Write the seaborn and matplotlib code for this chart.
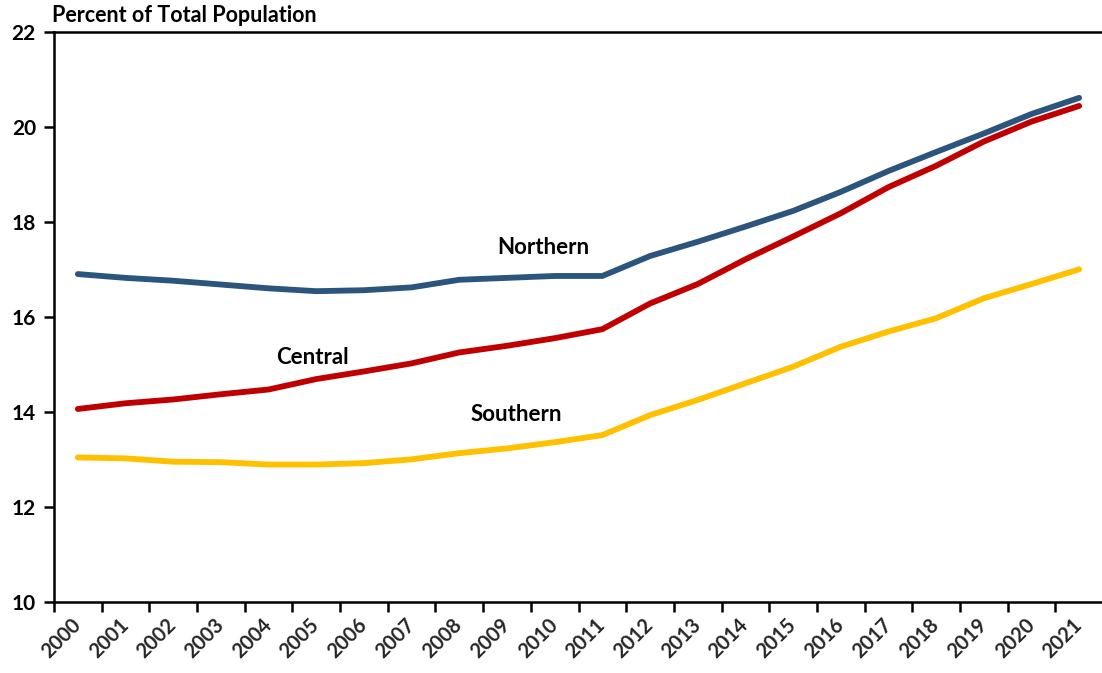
import matplotlib
matplotlib.use("Agg")
import matplotlib.pyplot as plt
import seaborn as sns
import pandas as pd
import numpy as np

years = [str(y) for y in range(2000, 2022)]

northern = [16.91, 16.83, 16.77, 16.69, 16.61, 16.55, 16.57, 16.63, 16.79, 16.83, 16.87, 16.87,
            17.29, 17.59, 17.91, 18.24, 18.64, 19.08, 19.48, 19.87, 20.28, 20.62]
central = [14.07, 14.19, 14.27, 14.38, 14.48, 14.70, 14.86, 15.03, 15.26, 15.40, 15.56, 15.75,
           16.29, 16.70, 17.22, 17.70, 18.19, 18.74, 19.19, 19.70, 20.12, 20.45]
southern = [13.05, 13.03, 12.96, 12.95, 12.90, 12.90, 12.93, 13.01, 13.14, 13.24, 13.37, 13.52,
            13.94, 14.26, 14.61, 14.96, 15.38, 15.70, 15.98, 16.40, 16.70, 17.01]

regions = ["Northern", "Central", "Southern"]
colors = {"Northern": "#2B557D", "Central": "#C00000", "Southern": "#FFC000"}

# Label anchor positions (category index, value)
label_pos = {"Northern": (9.77, 17.46), "Central": (4.91, 15.16), "Southern": (9.2, 13.96)}

yticks = [10, 12, 14, 16, 18, 20, 22]

df = pd.DataFrame({
    "idx": list(range(len(years))) * 3,
    "value": northern + central + southern,
    "region": [r for r in regions for _ in years],
})

sns.set_theme(style="white")
plt.rcParams["font.family"] = ["Lato", "DejaVu Sans"]
plt.rcParams["font.weight"] = "bold"

fig = plt.figure(figsize=(11.02, 6.73), dpi=100)
ax = fig.add_axes([54 / 1102, 70.7 / 673, 1049 / 1102, 570 / 673])

sns.lineplot(data=df, x="idx", y="value", hue="region", palette=colors,
             hue_order=regions, linewidth=4.2, legend=False, ax=ax,
             solid_capstyle="round")

ax.set_xlim(-0.5, len(years) - 0.5)
ax.set_ylim(10, 22)
ax.set_yticks(yticks)
ax.set_yticklabels([str(v) for v in yticks], fontsize=15, fontweight="bold")

# Tick marks sit between categories; labels sit at category centres
ax.set_xticks(np.arange(len(years) + 1) - 0.5)
ax.set_xticklabels([])
ax.set_xticks(np.arange(len(years)), minor=True)
ax.set_xticklabels(years, minor=True, rotation=45, ha="right", va="center",
                   rotation_mode="anchor", fontsize=14.5, fontweight="bold")
ax.tick_params(axis="x", which="major", direction="out", length=7, width=1.8,
               color="black", bottom=True)
ax.tick_params(axis="x", which="minor", length=0, pad=14)
ax.tick_params(axis="y", direction="out", length=7, width=1.8, color="black",
               left=True, pad=6, labelcolor="black")
ax.tick_params(axis="x", labelcolor="black")

for side in ["left", "top", "bottom"]:
    ax.spines[side].set_visible(True)
    ax.spines[side].set_color("black")
    ax.spines[side].set_linewidth(1.8)
ax.spines["right"].set_visible(False)

ax.set_xlabel("")
ax.set_ylabel("")
ax.grid(False)

for r in regions:
    x, y = label_pos[r]
    ax.text(x, y, r, ha="center", va="center", fontsize=16, fontweight="bold",
            color="black")

fig.text(52 / 1102, 1 - 16 / 673, "Percent of Total Population", ha="left",
         va="center", fontsize=15.5, fontweight="bold", color="black")

fig.savefig("out.png", dpi=100)
